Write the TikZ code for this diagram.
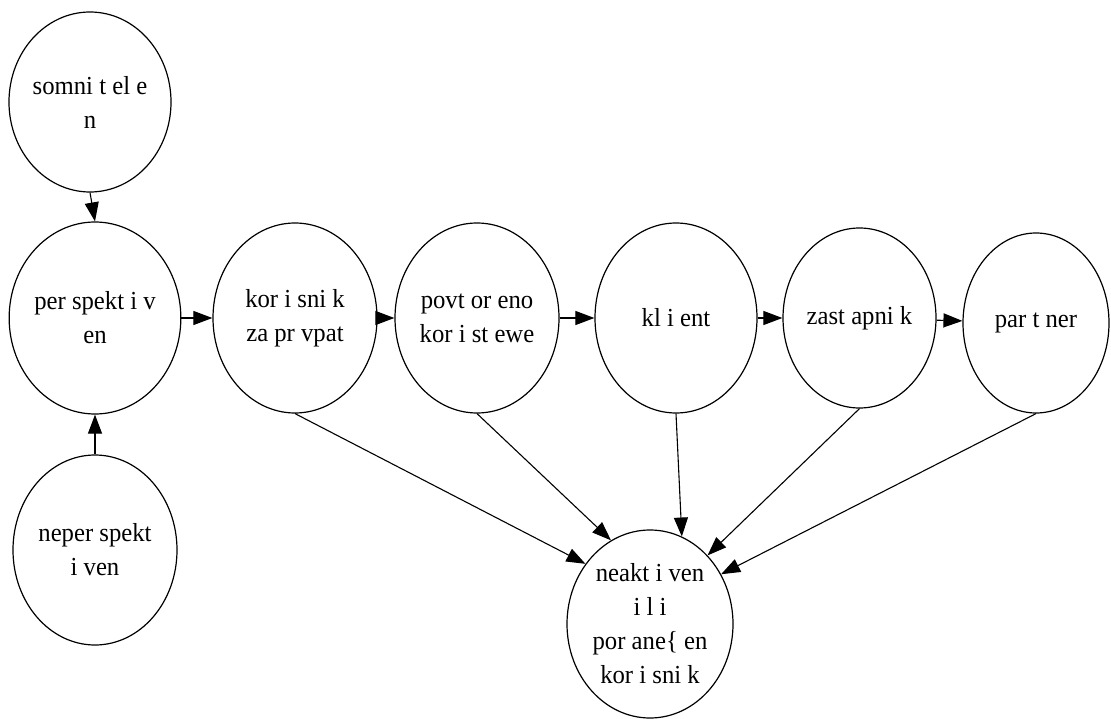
\documentclass[tikz,border=0pt]{standalone}
\usepackage{fontspec}
\setmainfont[FakeStretch=0.95]{Liberation Serif}
\usetikzlibrary{shapes.geometric,arrows.meta}
\tikzset{
  state/.style={ellipse, draw=black, line width=1.2pt, inner sep=0pt, align=center,
    font=\fontsize{26}{34}\selectfont},
  edge/.style={line width=1.1pt, -{Triangle[length=19pt,width=14pt]}}
}
\begin{document}
\begin{tikzpicture}[x=1pt,y=-1pt]
\useasboundingbox (0,0) rectangle (1111,719);
\node[state, minimum width=154pt, minimum height=180pt] (som) at (90,102) {somni t el e\\n};
\node[state, minimum width=164pt, minimum height=192pt] (per) at (95,318) {per spekt i v\\en};
\node[state, minimum width=164pt, minimum height=190pt] (nep) at (95,550) {neper spekt\\i ven};
\node[state, minimum width=164pt, minimum height=190pt] (kor) at (295,318) {kor i sni k\\za pr vpat};
\node[state, minimum width=164pt, minimum height=190pt] (pov) at (477,318) {povt or eno\\kor i st ewe};
\node[state, minimum width=162pt, minimum height=190pt] (kli) at (676,318) {kl i ent};
\node[state, minimum width=153pt, minimum height=180pt] (zas) at (859.5,318) {zast apni k};
\node[state, minimum width=146pt, minimum height=180pt] (par) at (1036,323) {par t ner};
\node[state, minimum width=166pt, minimum height=188pt] (nea) at (650,624) {neakt i ven\\i l i\\por ane\{ en\\kor i sni k};

\draw[edge] (som.south) -- (per.north);
\draw[edge] (nep.north) -- (per.south);
\draw[edge] (per) -- (kor);
\draw[edge] (kor) -- (pov);
\draw[edge] (pov) -- (kli);
\draw[edge] (kli) -- (zas);
\draw[edge] (zas) -- (par);
\draw[edge] (kor.south) -- (nea.137);
\draw[edge] (pov.south) -- (nea.115);
\draw[edge] (kli.south) -- (nea.70);
\draw[edge] (zas.south) -- (nea.50);
\draw[edge] (par.south) -- (nea.35);
\end{tikzpicture}
\end{document}
